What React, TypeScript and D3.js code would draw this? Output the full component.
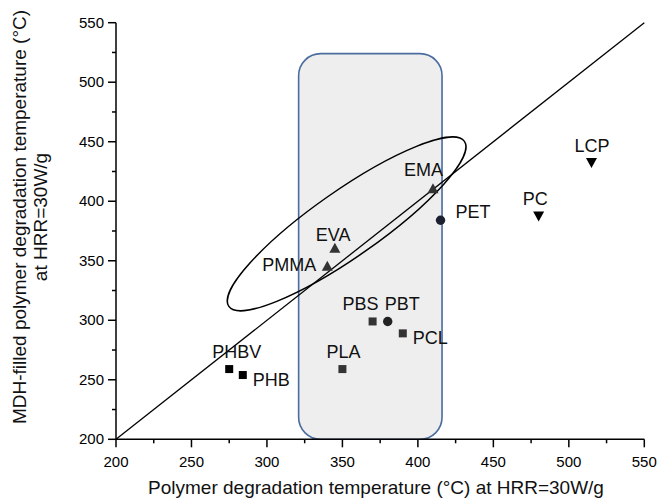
import React from "react";
import * as d3 from "d3";

const names = ["PHBV", "PHB", "PLA", "PBS", "PBT", "PCL", "PMMA", "EVA", "EMA", "PET", "PC", "LCP"];
const xValues = [275, 284, 350, 370, 380, 390, 340, 345, 410, 415, 480, 515];
const yValues = [259, 254, 259, 299, 299, 289, 345, 360, 410, 384, 388, 433];
const shapes = ["square", "square", "square", "square", "circle", "square", "triUp", "triUp", "triUp", "circle", "triDown", "triDown"];
const xTicks = [200, 250, 300, 350, 400, 450, 500, 550];
const yTicks = [200, 250, 300, 350, 400, 450, 500, 550];
const xDomain = [200, 550];
const yDomain = [200, 550];
const rectRange = { x0: 321, x1: 416, y0: 200, y1: 524 };
const ellipseCenter = { x: 352.8, y: 381 };

// styling (pixel offsets for labels, colors)
const labelOffsets: Record<string, [number, number, string]> = {
  PHBV: [-17, -11, "start"],
  PHB: [10, 11, "start"],
  PLA: [-16, -11, "start"],
  PBS: [-30, -11, "start"],
  PBT: [-3, -11, "start"],
  PCL: [10, 11, "start"],
  PMMA: [-11, 4, "end"],
  EVA: [-19, -8, "start"],
  EMA: [-29, -13, "start"],
  PET: [15, -2, "start"],
  PC: [-16, -11, "start"],
  LCP: [-17, -10, "start"],
};
const markerColors: Record<string, string> = {
  PHBV: "#000", PHB: "#000", PLA: "#333", PBS: "#333", PBT: "#222", PCL: "#333",
  PMMA: "#333", EVA: "#333", EMA: "#333", PET: "#1a2030", PC: "#000", LCP: "#000",
};

const W = 657, H = 499;
const M = { left: 116, right: 657 - 644.3, top: 22.7, bottom: 499 - 439.3 };
const FONT = "'Liberation Sans', Arial, sans-serif";

export default function App() {
  const x = d3.scaleLinear().domain(xDomain).range([M.left, W - M.right]);
  const y = d3.scaleLinear().domain(yDomain).range([H - M.bottom, M.top]);
  const x0 = x(xDomain[0]), x1 = x(xDomain[1]);
  const y0 = y(yDomain[0]), y1 = y(yDomain[1]);
  const minorX = d3.range(xDomain[0], xDomain[1] + 1, 25).filter((v) => v % 50 !== 0);
  const minorY = d3.range(yDomain[0], yDomain[1] + 1, 25).filter((v) => v % 50 !== 0);

  const rx = x(rectRange.x0), rw = x(rectRange.x1) - rx;
  const ry = y(rectRange.y1), rh = y(rectRange.y0) - ry;

  const diag = d3.line<number>().x((v) => x(v)).y((v) => y(v))([200, 550]);

  const marker = (i: number) => {
    const cx = x(xValues[i]), cy = y(yValues[i]);
    const col = markerColors[names[i]];
    const s = shapes[i];
    if (s === "square") return <rect key={"m" + i} x={cx - 4} y={cy - 4} width={8} height={8} fill={col} />;
    if (s === "circle") return <circle key={"m" + i} cx={cx} cy={cy} r={4.7} fill={col} />;
    if (s === "triUp") return <path key={"m" + i} d={`M${cx},${cy - 6}L${cx + 5.5},${cy + 4}L${cx - 5.5},${cy + 4}Z`} fill={col} />;
    return <path key={"m" + i} d={`M${cx},${cy + 6}L${cx + 5.5},${cy - 4}L${cx - 5.5},${cy - 4}Z`} fill={col} />;
  };

  return (
    <svg width={W} height={H} style={{ position: "absolute", left: 0, top: 0, display: "block", background: "#fff" }} fontFamily={FONT}>
      <rect x={rx} y={ry} width={rw} height={rh} rx={22} ry={22} fill="#eeeeee" stroke="#4a6c9e" strokeWidth={1.6} />
      <path d={diag || ""} stroke="#000" strokeWidth={1.3} fill="none" />
      <ellipse
        cx={x(ellipseCenter.x)} cy={y(ellipseCenter.y)} rx={143.8} ry={33.1}
        transform={`rotate(-35 ${x(ellipseCenter.x)} ${y(ellipseCenter.y)})`}
        fill="none" stroke="#000" strokeWidth={1.5}
      />
      {/* axes */}
      <line x1={x0} x2={x1} y1={y0} y2={y0} stroke="#000" strokeWidth={1.5} />
      <line x1={x0} x2={x0} y1={y0} y2={y1} stroke="#000" strokeWidth={1.5} />
      {xTicks.map((t) => (
        <g key={"xt" + t}>
          <line x1={x(t)} x2={x(t)} y1={y0} y2={y0 + 8} stroke="#000" strokeWidth={1.5} />
          <text x={x(t)} y={y0 + 28} textAnchor="middle" fontSize={15} fill="#000">{t}</text>
        </g>
      ))}
      {minorX.map((t) => <line key={"xm" + t} x1={x(t)} x2={x(t)} y1={y0} y2={y0 + 4} stroke="#000" strokeWidth={1.5} />)}
      {yTicks.map((t) => (
        <g key={"yt" + t}>
          <line x1={x0 - 8} x2={x0} y1={y(t)} y2={y(t)} stroke="#000" strokeWidth={1.5} />
          <text x={x0 - 12} y={y(t) + 5} textAnchor="end" fontSize={15} fill="#000">{t}</text>
        </g>
      ))}
      {minorY.map((t) => <line key={"ym" + t} x1={x0 - 4} x2={x0} y1={y(t)} y2={y(t)} stroke="#000" strokeWidth={1.5} />)}
      {/* markers */}
      {names.map((_, i) => marker(i))}
      {names.map((n, i) => {
        const [dx, dy, anchor] = labelOffsets[n];
        return (
          <text key={"l" + i} x={x(xValues[i]) + dx} y={y(yValues[i]) + dy} fontSize={18} textAnchor={anchor as any} fill="#111">{n}</text>
        );
      })}
      {/* titles */}
      <text x={376} y={494} textAnchor="middle" fontSize={19} fill="#111">Polymer degradation temperature (°C) at HRR=30W/g</text>
      <text transform="translate(26,217) rotate(-90)" textAnchor="middle" fontSize={19} fill="#111">MDH-filled polymer degradation temperature (°C)</text>
      <text transform="translate(47,217) rotate(-90)" textAnchor="middle" fontSize={19} fill="#111">at HRR=30W/g</text>
    </svg>
  );
}
